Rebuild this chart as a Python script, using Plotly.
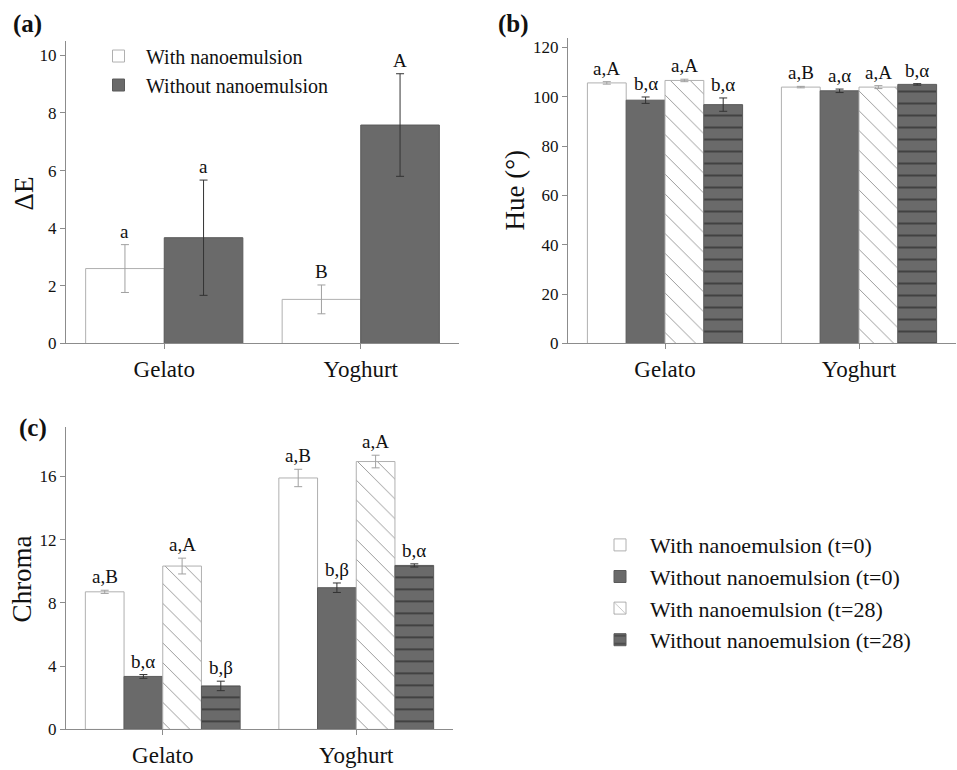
import plotly.graph_objects as go

W, H = 957, 770
FONT = "Liberation Serif, Times New Roman, DejaVu Serif, serif"

categories = ["Gelato", "Yoghurt"]
cat_pos = [0, 1]

# Panel (a): colour difference
de_with = [2.6, 1.53]
de_with_err = [0.83, 0.5]
de_without = [3.67, 7.58]
de_without_err = [2.0, 1.78]
de_with_lbl = ["a", "B"]
de_without_lbl = ["a", "A"]

# Panel (b): hue
hue_with0 = [105.6, 103.9]
hue_with0_err = [0.5, 0.3]
hue_without0 = [98.6, 102.4]
hue_without0_err = [1.3, 0.7]
hue_with28 = [106.6, 103.9]
hue_with28_err = [0.5, 0.6]
hue_without28 = [96.8, 105.0]
hue_without28_err = [2.7, 0.3]
hue_lbl = [["a,A", "a,B"], ["b,α", "a,α"], ["a,A", "a,A"], ["b,α", "b,α"]]

# Panel (c): chroma
chroma_with0 = [8.7, 15.9]
chroma_with0_err = [0.1, 0.55]
chroma_without0 = [3.35, 8.96]
chroma_without0_err = [0.12, 0.3]
chroma_with28 = [10.33, 16.94]
chroma_with28_err = [0.5, 0.4]
chroma_without28 = [2.75, 10.37]
chroma_without28_err = [0.3, 0.1]
chroma_lbl = [["a,B", "a,B"], ["b,α", "b,β"], ["a,A", "a,A"], ["b,β", "b,α"]]

names4 = ["With nanoemulsion (t=0)", "Without nanoemulsion (t=0)",
          "With nanoemulsion (t=28)", "Without nanoemulsion (t=28)"]
names2 = ["With nanoemulsion", "Without nanoemulsion"]

DARK = "#6a6a6a"
styles = [
    dict(marker=dict(color="white", line=dict(color="#b0b0b0", width=1)), err="#a0a0a0"),
    dict(marker=dict(color=DARK, line=dict(color="#5a5a5a", width=1)), err="#333333"),
    dict(marker=dict(color="white", line=dict(color="#b0b0b0", width=1),
                     pattern=dict(shape="\\", fgcolor="#9a9a9a", bgcolor="white",
                                  size=14, solidity=0.07, fillmode="replace")), err="#a0a0a0"),
    dict(marker=dict(color=DARK, line=dict(color="#5a5a5a", width=1),
                     pattern=dict(shape="-", fgcolor="#262626", bgcolor=DARK,
                                  size=12, solidity=0.1, fillmode="replace")), err="#333333"),
]

fig = go.Figure()
annotations = []

def add_group(vals, errs, lbls, names, style_idx, xa, ya, legend, showlegend):
    n = len(vals)
    width = 0.8 / n
    for k in range(n):
        st = styles[style_idx[k]]
        fig.add_trace(go.Bar(
            x=cat_pos, y=vals[k], name=names[k] if names else None,
            marker=st["marker"],
            error_y=dict(type="data", array=errs[k], color=st["err"], thickness=1, width=4),
            xaxis=xa, yaxis=ya, legend=legend, showlegend=showlegend,
        ))
        off = -0.4 + width * (k + 0.5)
        for i in range(len(cat_pos)):
            annotations.append(dict(
                x=cat_pos[i] + off, y=vals[k][i] + errs[k][i], xref=xa, yref=ya,
                text=lbls[k][i], showarrow=False, xanchor="center", yanchor="bottom", yshift=1,
                font=dict(family=FONT, size=19, color="#111111")))

add_group([de_with, de_without], [de_with_err, de_without_err],
          [de_with_lbl, de_without_lbl], names2, [0, 1], "x", "y", "legend", True)
add_group([hue_with0, hue_without0, hue_with28, hue_without28],
          [hue_with0_err, hue_without0_err, hue_with28_err, hue_without28_err],
          hue_lbl, None, [0, 1, 2, 3], "x2", "y2", "legend", False)
add_group([chroma_with0, chroma_without0, chroma_with28, chroma_without28],
          [chroma_with0_err, chroma_without0_err, chroma_with28_err, chroma_without28_err],
          chroma_lbl, names4, [0, 1, 2, 3], "x3", "y3", "legend2", True)

def xd(a, b):
    return [a / W, b / W]

def yd(top, bottom):
    return [1 - bottom / H, 1 - top / H]

AX = "#8c8c8c"
def xaxis(dom, anchor):
    return dict(domain=dom, anchor=anchor, range=[-0.5, 1.5], tickvals=cat_pos,
                ticktext=categories, showline=True, linecolor=AX, linewidth=1,
                ticks="outside", ticklen=5, tickcolor=AX, showgrid=False, zeroline=False,
                tickfont=dict(family=FONT, size=23, color="#111111"), fixedrange=True)

def yaxis(dom, anchor, rng, dtick):
    return dict(domain=dom, anchor=anchor, range=rng, dtick=dtick, showline=True,
                linecolor=AX, linewidth=1, ticks="outside", ticklen=5, tickcolor=AX,
                showgrid=False, zeroline=False,
                tickfont=dict(family=FONT, size=17, color="#111111"), fixedrange=True)

# axis titles and panel letters
for txt, x, y in [("ΔE", 24, 196), ("Hue (°)", 515, 193), ("Chroma", 22, 587)]:
    annotations.append(dict(text=txt, x=x / W, y=1 - y / H, xref="paper", yref="paper",
                            showarrow=False, textangle=-90, xanchor="center", yanchor="middle",
                            font=dict(family=FONT, size=27, color="#111111")))
for txt, x, y in [("(a)", 27, 24), ("(b)", 513, 24), ("(c)", 33, 434)]:
    annotations.append(dict(text="<b>" + txt + "</b>", x=x / W, y=1 - y / H,
                            xref="paper", yref="paper", showarrow=False,
                            xanchor="center", yanchor="middle",
                            font=dict(family=FONT, size=25, color="#111111")))

fig.update_layout(
    width=W, height=H, margin=dict(l=0, r=0, t=0, b=0),
    paper_bgcolor="white", plot_bgcolor="white",
    barmode="group", bargap=0.2, bargroupgap=0,
    font=dict(family=FONT, color="#111111"),
    xaxis=xaxis(xd(66, 459), "y"), yaxis=yaxis(yd(42, 348), "x", [0, 10.48], 2),
    xaxis2=xaxis(xd(568, 956), "y2"), yaxis2=yaxis(yd(38, 348), "x2", [0, 124], 20),
    xaxis3=xaxis(xd(66, 453), "y3"), yaxis3=yaxis(yd(433, 739), "x3", [0, 19.1], 4),
    legend=dict(x=91 / W, y=1 - 37 / H, xanchor="left", yanchor="top",
                bgcolor="rgba(0,0,0,0)", font=dict(family=FONT, size=20, color="#111111"),
                itemwidth=45, tracegroupgap=0),
    legend2=dict(x=590 / W, y=1 - 531 / H, xanchor="left", yanchor="top",
                 bgcolor="rgba(0,0,0,0)", font=dict(family=FONT, size=22, color="#111111"),
                 itemwidth=50, tracegroupgap=0),
    annotations=annotations,
    showlegend=True,
)

fig.write_html("out.html")
